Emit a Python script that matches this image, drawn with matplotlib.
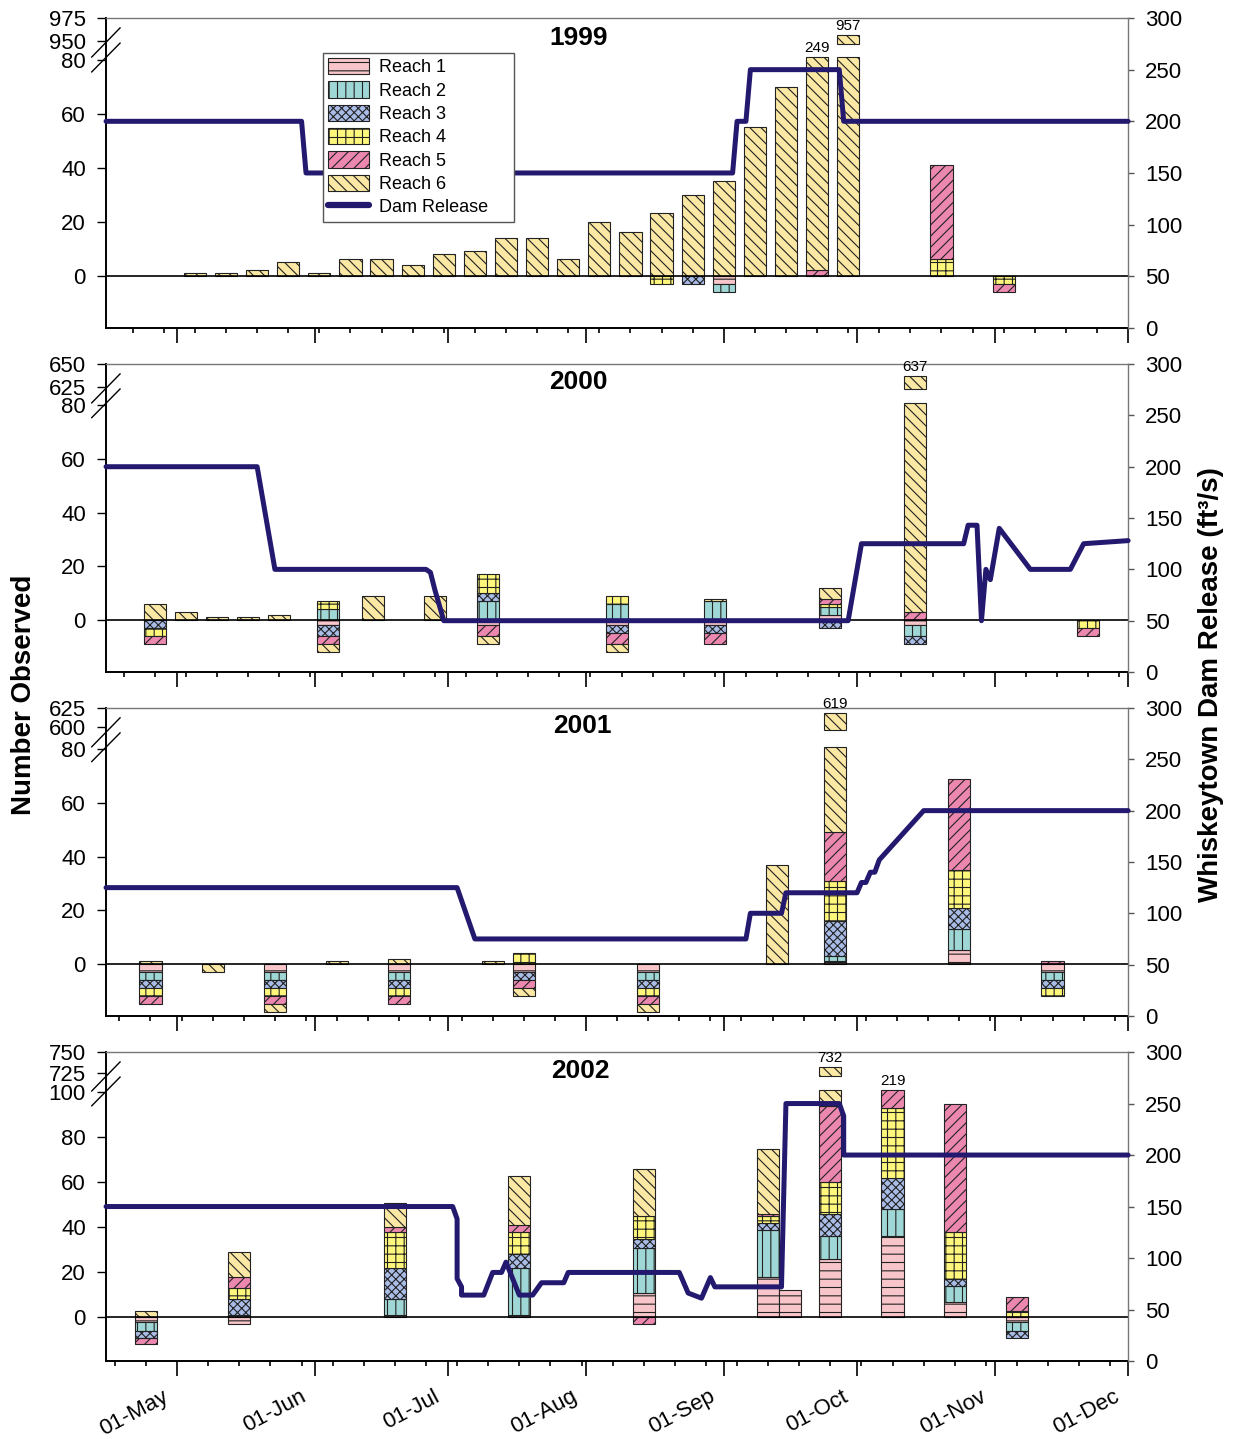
import matplotlib
matplotlib.use('Agg')
import matplotlib.pyplot as plt
import matplotlib.dates as mdates
import matplotlib.patches as mpatches
import matplotlib.transforms as mtransforms
from matplotlib.lines import Line2D
import numpy as np
import pandas as pd

plt.rcParams['font.family'] = ['Liberation Sans', 'DejaVu Sans']
plt.rcParams['hatch.linewidth'] = 0.8

reach_names = ['Reach 1', 'Reach 2', 'Reach 3', 'Reach 4', 'Reach 5', 'Reach 6']
reach_colors = ['#f7c5ca', '#9fd7d6', '#a9bce6', '#fff77c', '#ec88b0', '#fbe8a4']
reach_hatches = ['--', '||', 'xxxx', '++', '///', '\\\\\\']
dam_color = '#23196f'

# ---- 1999 ----
dates_1999 = ['05-05', '05-12', '05-19', '05-26', '06-02', '06-09', '06-16', '06-23',
              '06-30', '07-07', '07-14', '07-21', '07-28', '08-04', '08-11', '08-18',
              '08-25', '09-01', '09-08', '09-15', '09-22', '09-29', '10-20', '11-03']
up_1999 = [
    [0, 0, 0, 0, 0, 0, 0, 0, 0, 0, 0, 0, 0, 0, 0, 0, 0, 0, 0, 0, 0, 0, 0, 0],
    [0, 0, 0, 0, 0, 0, 0, 0, 0, 0, 0, 0, 0, 0, 0, 0, 0, 0, 0, 0, 0, 0, 0, 0],
    [0, 0, 0, 0, 0, 0, 0, 0, 0, 0, 0, 0, 0, 0, 0, 0, 0, 0, 0, 0, 0, 0, 0, 0],
    [0, 0, 0, 0, 0, 0, 0, 0, 0, 0, 0, 0, 0, 0, 0, 0, 0, 0, 0, 0, 0, 0, 6, 0],
    [0, 0, 0, 0, 0, 0, 0, 0, 0, 0, 0, 0, 0, 0, 0, 0, 0, 0, 0, 0, 2, 0, 35, 0],
    [1, 1, 2, 5, 1, 6, 6, 4, 8, 9, 14, 14, 6, 20, 16, 23, 30, 35, 55, 70, 247, 957, 0, 0],
]
down_1999 = [
    [0, 0, 0, 0, 0, 0, 0, 0, 0, 0, 0, 0, 0, 0, 0, 0, 0, 3, 0, 0, 0, 0, 0, 0],
    [0, 0, 0, 0, 0, 0, 0, 0, 0, 0, 0, 0, 0, 0, 0, 0, 0, 3, 0, 0, 0, 0, 0, 0],
    [0, 0, 0, 0, 0, 0, 0, 0, 0, 0, 0, 0, 0, 0, 0, 0, 3, 0, 0, 0, 0, 0, 0, 0],
    [0, 0, 0, 0, 0, 0, 0, 0, 0, 0, 0, 0, 0, 0, 0, 3, 0, 0, 0, 0, 0, 0, 0, 3],
    [0, 0, 0, 0, 0, 0, 0, 0, 0, 0, 0, 0, 0, 0, 0, 0, 0, 0, 0, 0, 0, 0, 0, 3],
    [0, 0, 0, 0, 0, 0, 0, 0, 0, 0, 0, 0, 0, 0, 0, 0, 0, 0, 0, 0, 0, 0, 0, 0],
]
rel_dates_1999 = ['04-15', '05-29', '05-30', '09-03', '09-04', '09-06', '09-07',
                  '09-27', '09-28', '12-01']
rel_1999 = [200, 200, 150, 150, 200, 200, 250, 250, 200, 200]

# ---- 2000 ----
dates_2000 = ['04-26', '05-03', '05-10', '05-17', '05-24', '06-04', '06-14',
              '06-28', '07-10', '08-08', '08-30', '09-25', '10-14', '11-22']
up_2000 = [
    [0, 0, 0, 0, 0, 0, 0, 0, 0, 0, 0, 2, 0, 0],
    [0, 0, 0, 0, 0, 4, 0, 0, 7, 6, 7, 3, 0, 0],
    [0, 0, 0, 0, 0, 0, 0, 0, 3, 0, 0, 0, 0, 0],
    [0, 0, 0, 0, 0, 3, 0, 0, 7, 3, 0, 1, 0, 0],
    [0, 0, 0, 0, 0, 0, 0, 0, 0, 0, 0, 2, 3, 0],
    [6, 3, 1, 1, 2, 0, 9, 9, 0, 0, 1, 4, 634, 0],
]
down_2000 = [
    [0, 0, 0, 0, 0, 2, 0, 0, 2, 2, 2, 0, 2, 0],
    [0, 0, 0, 0, 0, 0, 0, 0, 0, 0, 0, 0, 4, 0],
    [3, 0, 0, 0, 0, 4, 0, 0, 0, 3, 3, 3, 3, 0],
    [3, 0, 0, 0, 0, 0, 0, 0, 0, 0, 0, 0, 0, 3],
    [3, 0, 0, 0, 0, 3, 0, 0, 4, 4, 4, 0, 0, 3],
    [0, 0, 0, 0, 0, 3, 0, 0, 3, 3, 0, 0, 0, 0],
]
rel_dates_2000 = ['04-15', '05-19', '05-23', '06-26', '06-27', '06-28', '06-30',
                  '09-29', '10-02', '10-25', '10-26', '10-28', '10-29', '10-30',
                  '10-31', '11-02', '11-09', '11-18', '11-21', '12-01']
rel_2000 = [200, 200, 100, 100, 97, 80, 50, 50, 125, 125, 143, 143, 50, 100,
            90, 140, 100, 100, 125, 128]

# ---- 2001 ----
dates_2001 = ['04-25', '05-09', '05-23', '06-06', '06-20', '07-11', '07-18',
              '08-15', '09-13', '09-26', '10-24', '11-14']
up_2001 = [
    [0, 0, 0, 0, 0, 0, 0, 0, 0, 1, 5, 0],
    [0, 0, 0, 0, 0, 0, 0, 0, 0, 2, 8, 0],
    [0, 0, 0, 0, 0, 0, 0, 0, 0, 13, 8, 0],
    [0, 0, 0, 0, 0, 0, 4, 0, 0, 15, 14, 0],
    [0, 0, 0, 0, 0, 0, 0, 0, 0, 18, 34, 1],
    [1, 0, 0, 1, 2, 1, 0, 0, 37, 570, 0, 0],
]
down_2001 = [
    [3, 0, 3, 0, 3, 0, 3, 3, 0, 0, 0, 3],
    [3, 0, 3, 0, 3, 0, 0, 3, 0, 0, 0, 3],
    [3, 0, 3, 0, 3, 0, 3, 3, 0, 0, 0, 3],
    [3, 0, 3, 0, 3, 0, 0, 3, 0, 0, 0, 3],
    [3, 0, 3, 0, 3, 0, 3, 3, 0, 0, 0, 0],
    [0, 3, 3, 0, 0, 0, 3, 3, 0, 0, 0, 0],
]
rel_dates_2001 = ['04-15', '07-03', '07-07', '09-06', '09-07', '09-14', '09-15',
                  '10-01', '10-02', '10-03', '10-04', '10-05', '10-06', '10-16', '12-01']
rel_2001 = [125, 125, 75, 75, 100, 100, 120, 120, 130, 130, 140, 140, 152, 200, 200]

# ---- 2002 ----
dates_2002 = ['04-24', '05-15', '06-19', '07-17', '08-14', '09-11', '09-16',
              '09-25', '10-09', '10-23', '11-06']
up_2002 = [
    [0, 0, 1, 1, 11, 18, 12, 26, 36, 7, 0],
    [0, 1, 7, 21, 20, 21, 0, 10, 12, 7, 0],
    [0, 7, 14, 6, 4, 3, 0, 10, 14, 3, 0],
    [0, 5, 16, 10, 10, 3, 0, 14, 31, 21, 3],
    [0, 5, 2, 3, 0, 1, 0, 34, 126, 57, 6],
    [3, 11, 11, 22, 21, 29, 0, 638, 0, 0, 0],
]
down_2002 = [
    [2, 3, 0, 0, 0, 0, 0, 0, 0, 0, 2],
    [4, 0, 0, 0, 0, 0, 0, 0, 0, 0, 4],
    [3, 0, 0, 0, 0, 0, 0, 0, 0, 0, 3],
    [0, 0, 0, 0, 0, 0, 0, 0, 0, 0, 0],
    [3, 0, 0, 0, 3, 0, 0, 0, 0, 0, 0],
    [0, 0, 0, 0, 0, 0, 0, 0, 0, 0, 0],
]
rel_dates_2002 = ['04-15', '07-02', '07-03', '07-03', '07-04', '07-04', '07-09',
                  '07-11', '07-13', '07-14', '07-17', '07-20', '07-22', '07-27',
                  '07-28', '08-22', '08-24', '08-27', '08-29', '08-30', '09-14',
                  '09-15', '09-27', '09-28', '09-28', '12-01']
rel_2002 = [150, 150, 138, 80, 72, 64, 64, 86, 86, 96, 64, 64, 76, 76, 86, 86,
            66, 61, 81, 72, 72, 250, 250, 238, 200, 200]

panels = [
    (1999, dates_1999, up_1999, down_1999, rel_dates_1999, rel_1999),
    (2000, dates_2000, up_2000, down_2000, rel_dates_2000, rel_2000),
    (2001, dates_2001, up_2001, down_2001, rel_dates_2001, rel_2001),
    (2002, dates_2002, up_2002, down_2002, rel_dates_2002, rel_2002),
]

# axes rect, axis break, upper-segment tick values and where they sit on the axis
layout = [
    dict(rect=[0.0858, 0.7721, 0.8269, 0.2154], brk=80, upper=(950, 975), up_v=(86.8, 95.4), title=(0.462, 0.935)),
    dict(rect=[0.0858, 0.5330, 0.8269, 0.2140], brk=80, upper=(625, 650), up_v=(87.0, 95.4), title=(0.462, 0.942)),
    dict(rect=[0.0858, 0.2940, 0.8269, 0.2140], brk=80, upper=(600, 625), up_v=(88.2, 95.4), title=(0.466, 0.942)),
    dict(rect=[0.0858, 0.0542, 0.8269, 0.2147], brk=100, upper=(725, 750), up_v=(108.4, 117.9), title=(0.464, 0.939)),
]

BAR_W = 5
EDGE = '#222222'
TICK_FS = 16


def to_num(year, mmdd):
    return mdates.date2num(pd.to_datetime([f'{year}-{d}' for d in mmdd]))


def stack(ax, x, vals, sign, cap):
    base = np.zeros(len(x))
    for k in range(6):
        v = np.asarray(vals[k], float)
        lo = np.minimum(base, cap)
        hi = np.minimum(base + v, cap)
        m = hi > lo
        if m.any():
            ax.bar(x[m], sign * (hi[m] - lo[m]), bottom=sign * lo[m], width=BAR_W,
                   color=reach_colors[k], hatch=reach_hatches[k], edgecolor=EDGE,
                   linewidth=0.8, zorder=2)
        base = base + v


fig = plt.figure(figsize=(12.36, 14.39), dpi=100)

for p, ((year, dates, up, down, rdates, rel), lay) in enumerate(zip(panels, layout)):
    ax = fig.add_axes(lay['rect'])
    brk, upper, up_v = lay['brk'], lay['upper'], lay['up_v']
    x = to_num(year, dates)
    up = np.asarray(up, float)
    tot = up.sum(axis=0)
    cap = np.where(tot > brk, brk + 1, np.inf)

    stack(ax, x, up, 1, cap)
    stack(ax, x, down, -1, np.full(len(x), np.inf))

    # broken bars
    scale = (up_v[1] - up_v[0]) / (upper[1] - upper[0])
    for j in range(len(x)):
        if tot[j] <= brk:
            continue
        k_top = max(k for k in range(6) if up[k][j] > 0)
        if tot[j] >= upper[0]:
            y_top = up_v[0] + (tot[j] - upper[0]) * scale
            ax.bar(x[j], y_top - (up_v[0] - 1), bottom=up_v[0] - 1, width=BAR_W,
                   color=reach_colors[k_top], hatch=reach_hatches[k_top],
                   edgecolor=EDGE, linewidth=0.8, zorder=2)
        else:
            y_top = brk + 1
        ax.annotate(f'{int(tot[j])}', (x[j], y_top), xytext=(0, 1.5),
                    textcoords='offset points', ha='center', va='bottom',
                    fontsize=11, annotation_clip=False)

    ax.axhline(0, color='black', lw=1.2, zorder=3)
    ax.set_ylim(-19.4, up_v[1])
    ax.set_xlim(mdates.date2num(pd.Timestamp(f'{year}-04-15')),
                mdates.date2num(pd.Timestamp(f'{year}-12-01')))

    low_ticks = list(range(0, brk + 1, 20))
    ax.set_yticks(low_ticks + [up_v[0], up_v[1]])
    ax.set_yticklabels([str(t) for t in low_ticks] + [str(upper[0]), str(upper[1])])
    ax.tick_params(axis='y', direction='out', length=6.5, width=1, labelsize=TICK_FS, pad=8)

    # break marks on the left axis
    for y0, y1 in [(0.874, 0.968), (0.826, 0.919)]:
        ax.plot([-0.014, 0.0137], [y0, y1], transform=ax.transAxes, color='black',
                lw=1, clip_on=False, zorder=5)

    months = pd.date_range(f'{year}-05-01', f'{year}-12-01', freq='MS')
    ax.set_xticks(mdates.date2num(months))
    ax.xaxis.set_minor_locator(mdates.WeekdayLocator(byweekday=mdates.WE))
    ax.tick_params(axis='x', which='major', direction='out', length=10.8, width=1.2)
    ax.tick_params(axis='x', which='minor', direction='out', length=3.6, width=1.2)
    ax.tick_params(axis='x', labelbottom=False)
    if p == len(panels) - 1:
        trans = (mtransforms.blended_transform_factory(ax.transData, ax.transAxes)
                 + mtransforms.ScaledTranslation(-15 / 100, -25 / 100, fig.dpi_scale_trans))
        for m in months:
            ax.text(mdates.date2num(m), 0, m.strftime('%d-%b'), transform=trans,
                    rotation=28, ha='right', va='top', rotation_mode='anchor',
                    fontsize=16)

    for s in ['left', 'bottom']:
        ax.spines[s].set_linewidth(1.4)
        ax.spines[s].set_color('black')
    ax.spines['top'].set_color('#777777')
    ax.spines['top'].set_linewidth(1)
    ax.spines['right'].set_visible(False)

    ax.text(lay['title'][0], lay['title'][1], str(year), transform=ax.transAxes,
            ha='center', va='center', fontsize=19, fontweight='bold')

    # dam release on the right axis
    ax2 = ax.twinx()
    ax2.plot(to_num(year, rdates), rel, color=dam_color, lw=3.6,
             solid_capstyle='round', solid_joinstyle='round', clip_on=False, zorder=4)
    ax2.set_ylim(0, 300)
    ax2.set_yticks(range(0, 301, 50))
    ax2.tick_params(axis='y', direction='out', length=4.3, width=1, labelsize=TICK_FS,
                    pad=8, color='#555555')
    for s in ['left', 'top', 'bottom']:
        ax2.spines[s].set_visible(False)
    ax2.spines['right'].set_color('#777777')
    ax2.spines['right'].set_linewidth(1)

    if p == 0:
        handles = [mpatches.Patch(facecolor=c, edgecolor=EDGE, hatch=h, lw=0.8, label=n)
                   for n, c, h in zip(reach_names, reach_colors, reach_hatches)]
        handles.append(Line2D([], [], color=dam_color, lw=4.5, solid_capstyle='round',
                              label='Dam Release'))
        leg = ax2.legend(handles=handles, loc='upper left',
                         bbox_to_anchor=(0.212, 0.3, 0.1875, 0.588), mode='expand',
                         borderaxespad=0, fancybox=False, framealpha=1, edgecolor='#555555',
                         fontsize=13, handlelength=2.27, handleheight=1.0,
                         handletextpad=0.55, labelspacing=0.28, borderpad=0.3)
        leg.get_frame().set_linewidth(1)
        leg.set_zorder(10)

fig.text(0.0194, 0.517, 'Number Observed', rotation=90, ha='center', va='center',
         fontsize=20, fontweight='bold')
fig.text(0.980, 0.524, 'Whiskeytown Dam Release (ft\u00b3/s)', rotation=90,
         ha='center', va='center', fontsize=20, fontweight='bold')

fig.savefig('out.png', dpi=100)
